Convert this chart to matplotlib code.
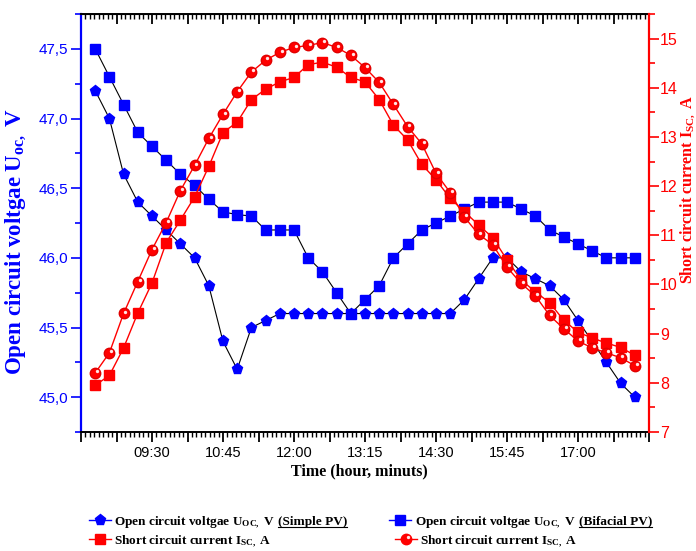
import matplotlib
matplotlib.use("Agg")
import matplotlib.pyplot as plt
from matplotlib.ticker import MultipleLocator, FuncFormatter
from matplotlib.lines import Line2D
from matplotlib.transforms import offset_copy

# данные (время измерений каждые 15 минут и значения)
times = ["08:30", "08:45", "09:00", "09:15", "09:30", "09:45", "10:00", "10:15", "10:30", "10:45",
         "11:00", "11:15", "11:30", "11:45", "12:00", "12:15", "12:30", "12:45", "13:00", "13:15",
         "13:30", "13:45", "14:00", "14:15", "14:30", "14:45", "15:00", "15:15", "15:30", "15:45",
         "16:00", "16:15", "16:30", "16:45", "17:00", "17:15", "17:30", "17:45", "18:00"]

v_simple = [47.2, 47.0, 46.6, 46.4, 46.3, 46.2, 46.1, 46.0, 45.8, 45.4,
            45.2, 45.5, 45.55, 45.6, 45.6, 45.6, 45.6, 45.6, 45.6, 45.6,
            45.6, 45.6, 45.6, 45.6, 45.6, 45.6, 45.7, 45.85, 46.0, 46.0,
            45.9, 45.85, 45.8, 45.7, 45.55, 45.4, 45.25, 45.1, 45.0]

v_bifacial = [47.5, 47.3, 47.1, 46.9, 46.8, 46.7, 46.6, 46.52, 46.42, 46.33,
              46.31, 46.3, 46.2, 46.2, 46.2, 46.0, 45.9, 45.75, 45.6, 45.7,
              45.8, 46.0, 46.1, 46.2, 46.25, 46.3, 46.35, 46.4, 46.4, 46.4,
              46.35, 46.3, 46.2, 46.15, 46.1, 46.05, 46.0, 46.0, 46.0]

i_square = [7.95, 8.15, 8.71, 9.42, 10.03, 10.85, 11.31, 11.78, 12.40, 13.09,
            13.30, 13.76, 13.97, 14.12, 14.21, 14.47, 14.52, 14.42, 14.21, 14.12,
            13.76, 13.24, 12.94, 12.44, 12.13, 11.75, 11.48, 11.21, 10.95, 10.50,
            10.09, 9.85, 9.63, 9.27, 9.03, 8.91, 8.81, 8.72, 8.56]

i_sphere = [8.2, 8.61, 9.41, 10.06, 10.71, 11.26, 11.91, 12.42, 12.97, 13.46,
            13.92, 14.32, 14.56, 14.72, 14.82, 14.86, 14.92, 14.82, 14.66, 14.41,
            14.11, 13.66, 13.21, 12.86, 12.26, 11.87, 11.37, 11.02, 10.81, 10.35,
            10.02, 9.77, 9.37, 9.10, 8.85, 8.71, 8.61, 8.51, 8.35]

tick_labels = ["09:30", "10:45", "12:00", "13:15", "14:30", "15:45", "17:00"]


def to_min(s):
    h, m = s.split(":")
    return int(h) * 60 + int(m)


t = [to_min(s) for s in times]
tick_map = {to_min(s): s for s in tick_labels}

plt.rcParams["font.family"] = "Liberation Sans"
plt.rcParams["mathtext.fontset"] = "custom"
plt.rcParams["mathtext.rm"] = "Liberation Serif:bold"
plt.rcParams["mathtext.it"] = "Liberation Serif:bold"
plt.rcParams["mathtext.bf"] = "Liberation Serif:bold"

W, H = 696, 551
fig = plt.figure(figsize=(W / 100, H / 100), dpi=100)
ax = fig.add_axes([81 / W, 1 - 432 / H, 568 / W, 418 / H])
ax2 = ax.twinx()

BLUE = "#0000ff"
RED = "#ff0000"

# напряжение (левая ось)
ax.plot(t, v_simple, color="black", lw=0.8, marker="p", ms=8, mfc=BLUE, mec=BLUE, zorder=3)
ax.plot(t, v_bifacial, color="black", lw=0.8, marker="s", ms=6.5, mfc=BLUE, mec=BLUE, zorder=3)

# ток (правая ось)
ax2.plot(t, i_square, color=RED, lw=1, marker="s", ms=6.5, mfc=RED, mec=RED)
ax2.plot(t, i_sphere, color=RED, lw=1, marker="o", ms=7.5, mfc=RED, mec="#e00000")
hl = offset_copy(ax2.transData, fig=fig, x=1.3, y=1.3, units="points")
ax2.plot(t, i_sphere, ls="none", marker="o", ms=2.4, mfc="white", mec="none", alpha=0.9, transform=hl)

ax.set_xlim(495, 1095)
ax.set_ylim(44.75, 47.75)
ax2.set_ylim(7, 15.5)

# ось Y слева
ax.yaxis.set_major_locator(MultipleLocator(0.5))
ax.yaxis.set_minor_locator(MultipleLocator(0.25))
ax.yaxis.set_major_formatter(FuncFormatter(lambda v, p: f"{v:.1f}".replace(".", ",")))
ax.tick_params(axis="y", which="both", colors=BLUE, direction="out", width=1.2, labelsize=11, pad=2)
ax.tick_params(axis="y", which="major", length=7)
ax.tick_params(axis="y", which="minor", length=4)
ax.spines["left"].set_color(BLUE)
ax.spines["left"].set_linewidth(1.6)
ax.spines["right"].set_visible(False)

# ось Y справа
ax2.yaxis.set_major_locator(MultipleLocator(1))
ax2.yaxis.set_minor_locator(MultipleLocator(0.5))
ax2.tick_params(axis="y", which="both", colors=RED, direction="out", width=1.2, labelsize=11.5, pad=1)
ax2.tick_params(axis="y", which="major", length=7)
ax2.tick_params(axis="y", which="minor", length=4)
for s in ["left", "top", "bottom"]:
    ax2.spines[s].set_visible(False)
ax2.spines["right"].set_color(RED)
ax2.spines["right"].set_linewidth(1.6)

# ось X: штрихи каждые 37.5 мин, подписи через один
ax.xaxis.set_major_locator(MultipleLocator(37.5, offset=495))
ax.xaxis.set_minor_locator(MultipleLocator(37.5 / 8, offset=495))
ax.xaxis.set_major_formatter(FuncFormatter(lambda v, p: tick_map.get(int(round(v)), "")))
ax.tick_params(axis="x", which="major", length=7, width=1.3, direction="out", labelsize=10.5, pad=3)
ax.tick_params(axis="x", which="minor", length=3.5, width=1, direction="out")
ax.spines["bottom"].set_linewidth(1.4)
ax.spines["top"].set_linewidth(1.4)

sec_t = ax.secondary_xaxis("top")
sec_t.xaxis.set_major_locator(MultipleLocator(37.5, offset=495))
sec_t.xaxis.set_minor_locator(MultipleLocator(37.5 / 8, offset=495))
sec_t.tick_params(axis="x", which="major", length=7, width=1.3, direction="in", labeltop=False)
sec_t.tick_params(axis="x", which="minor", length=3.5, width=1, direction="in")

# подписи осей
serif = dict(fontfamily="Liberation Serif", fontweight="bold")
ax.set_ylabel("Open circuit voltgae U$_{\\mathrm{oc,}}$ V", color=BLUE, fontsize=16.5, **serif)
ax.yaxis.set_label_coords(-0.094, 0.456)
ax2.set_ylabel("Short circuit current I$_{\\mathrm{SC,}}$ A", color=RED, fontsize=11.5, **serif)
ax2.yaxis.set_label_coords(1.051, 0.58)
ax.set_xlabel("Time (hour, minuts)", fontsize=11.5, **serif)
ax.xaxis.set_label_coords(0.49, -0.075)

# легенда внизу (вручную)
fig.canvas.draw()
renderer = fig.canvas.get_renderer()
inv = fig.transFigure.inverted()
LFS = 9.5


def legend_entry(xm, xt, y, marker, ms, color, text, ul_text=None, sphere=False):
    yf = 1 - y / H
    fig.add_artist(Line2D([(xm - 11) / W, xm / W, (xm + 11) / W], [yf, yf, yf], color=color, lw=1,
                          marker=marker, ms=ms, mfc=color, mec=color, markevery=[1]))
    if sphere:
        fig.add_artist(Line2D([(xm + 1.6) / W], [yf + 1.6 / H], ls="none", marker="o", ms=2.4,
                              mfc="white", mec="none", alpha=0.9))
    t1 = fig.text(xt / W, yf, text, va="center_baseline", ha="left", fontsize=LFS, **serif)
    if ul_text:
        bb = t1.get_window_extent(renderer)
        x2 = inv.transform((bb.x1 + 3, 0))[0]
        t2 = fig.text(x2, yf, ul_text, va="center_baseline", ha="left", fontsize=LFS, **serif)
        bb2 = t2.get_window_extent(renderer)
        (xa, ya), (xb, _) = inv.transform([(bb2.x0, bb2.y0 + 1), (bb2.x1, bb2.y0 + 1)])
        fig.add_artist(Line2D([xa, xb], [ya, ya], color="black", lw=0.8))


legend_entry(100, 114, 520, "p", 8, BLUE, "Open circuit voltgae U$_{\\mathrm{OC,}}$ V", "(Simple PV)")
legend_entry(400, 415, 520, "s", 6.5, BLUE, "Open circuit voltgae U$_{\\mathrm{OC,}}$ V", "(Bifacial PV)")
legend_entry(100, 114, 539, "s", 6.5, RED, "Short circuit current I$_{\\mathrm{SC,}}$ A")
legend_entry(406, 420, 539, "o", 7.5, RED, "Short circuit current I$_{\\mathrm{SC,}}$ A", sphere=True)

fig.savefig("out.png", dpi=100)
